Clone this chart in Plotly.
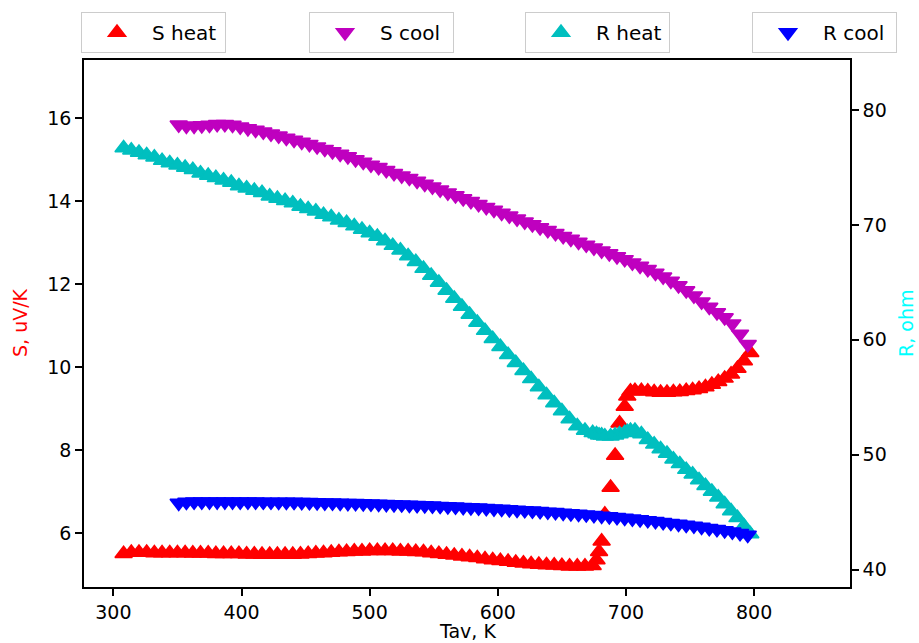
import plotly.graph_objects as go

# ---------------- data ----------------
T_heat = [308, 314, 320, 326, 332, 338, 344, 350, 356, 362, 368, 374, 380, 386, 392, 398,
          404, 410, 416, 422, 428, 434, 440, 446, 452, 458, 464, 470, 476, 482, 488, 494,
          500, 506, 512, 518, 524, 530, 536, 542, 548, 554, 560, 566, 572, 578, 584, 590,
          596, 602, 608, 614, 620, 626, 632, 638, 644, 650, 656, 662, 668, 674,
          677, 679, 681, 683.5, 688, 691.5, 695, 699, 701, 703.5,
          707, 712, 717, 722, 727, 732, 737, 742, 747, 752, 757, 762, 767, 772, 777, 782,
          787, 792, 797]

S_heat = [5.50, 5.53, 5.53, 5.53, 5.52, 5.52, 5.52, 5.52, 5.52, 5.51, 5.51, 5.51, 5.50, 5.50, 5.50, 5.50,
          5.49, 5.49, 5.48, 5.48, 5.48, 5.48, 5.48, 5.49, 5.50, 5.51, 5.52, 5.53, 5.54, 5.55, 5.56, 5.56,
          5.57, 5.57, 5.57, 5.57, 5.56, 5.56, 5.55, 5.54, 5.52, 5.50, 5.48, 5.46, 5.44, 5.42, 5.40, 5.37,
          5.35, 5.33, 5.31, 5.29, 5.27, 5.25, 5.24, 5.23, 5.22, 5.21, 5.20, 5.20, 5.20, 5.21,
          5.35, 5.55, 5.80, 6.45, 7.10, 7.87, 8.65, 9.05, 9.30, 9.42,
          9.43, 9.43, 9.42, 9.40, 9.39, 9.39, 9.40, 9.41, 9.43, 9.45, 9.48, 9.52, 9.58, 9.65, 9.73, 9.83,
          9.97, 10.15, 10.35]

R_heat = [76.7, 76.5, 76.3, 76.1, 75.9, 75.6, 75.4, 75.2, 75.0, 74.8, 74.5, 74.3, 74.1, 73.9, 73.7, 73.4,
          73.2, 73.0, 72.8, 72.5, 72.3, 72.1, 71.9, 71.6, 71.4, 71.2, 70.9, 70.7, 70.4, 70.2, 69.9, 69.6,
          69.3, 69.0, 68.6, 68.2, 67.8, 67.3, 66.8, 66.2, 65.6, 65.0, 64.3, 63.6, 62.9, 62.2, 61.5, 60.8,
          60.1, 59.4, 58.7, 58.0, 57.3, 56.6, 55.9, 55.2, 54.5, 53.8, 53.1, 52.5, 52.1, 51.9,
          51.8, 51.7, 51.7, 51.6, 51.6, 51.7, 51.8, 51.9, 52.0, 52.1,
          52.1, 51.8, 51.3, 50.9, 50.5, 50.1, 49.6, 49.2, 48.7, 48.3, 47.8, 47.3, 46.8, 46.3, 45.7, 45.1,
          44.5, 43.8, 43.1]

T_cool = [351, 357, 363, 369, 375, 381, 387, 393, 399, 405, 411, 417, 423, 429, 435,
          441, 447, 453, 459, 465, 471, 477, 483, 489, 495, 501, 507, 513, 519, 525, 531,
          537, 543, 549, 555, 561, 567, 573, 579, 585, 591, 597, 603, 609, 615, 621, 627,
          633, 639, 645, 651, 657, 663, 669, 675, 681, 687, 693, 699, 705, 711, 717, 723,
          729, 735, 741, 747, 753, 759, 765, 771, 777, 783, 789, 795]

S_cool = [15.85, 15.82, 15.82, 15.83, 15.84, 15.86, 15.86, 15.84, 15.80, 15.76, 15.72, 15.68, 15.63, 15.58, 15.53,
          15.48, 15.43, 15.38, 15.32, 15.26, 15.20, 15.14, 15.08, 15.01, 14.95, 14.88, 14.82, 14.75, 14.68, 14.62, 14.56,
          14.49, 14.42, 14.35, 14.28, 14.21, 14.14, 14.07, 14.00, 13.93, 13.86, 13.79, 13.72, 13.65, 13.58, 13.51, 13.44,
          13.37, 13.30, 13.23, 13.16, 13.09, 13.02, 12.95, 12.88, 12.81, 12.74, 12.67, 12.60, 12.52, 12.44, 12.36, 12.27,
          12.18, 12.08, 11.97, 11.85, 11.72, 11.58, 11.45, 11.32, 11.20, 11.05, 10.80, 10.55]

R_cool = [45.80, 45.88, 45.90, 45.90, 45.91, 45.91, 45.91, 45.91, 45.90, 45.90, 45.90, 45.89, 45.89, 45.88, 45.88,
          45.87, 45.86, 45.85, 45.84, 45.82, 45.81, 45.80, 45.78, 45.77, 45.75, 45.73, 45.71, 45.69, 45.67, 45.65, 45.62,
          45.60, 45.58, 45.55, 45.52, 45.49, 45.46, 45.43, 45.40, 45.37, 45.34, 45.30, 45.27, 45.23, 45.19, 45.15, 45.11,
          45.07, 45.02, 44.98, 44.93, 44.88, 44.83, 44.78, 44.73, 44.67, 44.61, 44.55, 44.49, 44.42, 44.35, 44.28, 44.20,
          44.12, 44.04, 43.96, 43.88, 43.80, 43.70, 43.60, 43.50, 43.40, 43.28, 43.15, 43.00]

x_ticks = [300, 400, 500, 600, 700, 800]
s_ticks = [6, 8, 10, 12, 14, 16]
r_ticks = [40, 50, 60, 70, 80]

# ---------------- figure ----------------
FONT = "DejaVu Sans"
FS = 19
MS = 15

def mk(symbol, color):
    return dict(symbol=symbol, size=MS, color=color, line=dict(width=1.5, color=color))

fig = go.Figure()
fig.add_trace(go.Scatter(x=T_heat, y=S_heat, mode="markers", name="S heat",
                         marker=mk("triangle-up", "#ff0000"), legend="legend"))
fig.add_trace(go.Scatter(x=T_cool, y=S_cool, mode="markers", name="S cool",
                         marker=mk("triangle-down", "#bf00bf"), legend="legend2"))
fig.add_trace(go.Scatter(x=T_heat, y=R_heat, mode="markers", name="R heat", yaxis="y2",
                         marker=mk("triangle-up", "#00bfbf"), legend="legend3"))
fig.add_trace(go.Scatter(x=T_cool, y=R_cool, mode="markers", name="R cool", yaxis="y2",
                         marker=mk("triangle-down", "#0000ff"), legend="legend4"))

L, R, T, B = 84, 69, 60, 56
W, H = 919, 643
pw, ph = W - L - R, H - T - B

def px2x(px):
    return (px - L) / pw

def py2y(py):
    return (H - B - py) / ph

axis_common = dict(showgrid=False, zeroline=False, showline=True, linecolor="black", linewidth=1.5,
                   ticks="outside", ticklen=7, tickwidth=1.5, tickcolor="black",
                   tickfont=dict(family=FONT, size=FS, color="black"))

fig.update_layout(
    width=W, height=H, showlegend=True,
    margin=dict(l=L, r=R, t=T, b=B, autoexpand=False),
    paper_bgcolor="white", plot_bgcolor="white",
    font=dict(family=FONT, size=FS, color="black"),
    xaxis=dict(range=[277.1, 874.8], tickmode="array", tickvals=x_ticks, mirror=True, **axis_common),
    yaxis=dict(range=[4.697, 17.41], tickmode="array", tickvals=s_ticks, **axis_common),
    yaxis2=dict(range=[38.48, 84.36], tickmode="array", tickvals=r_ticks, overlaying="y", side="right",
                **axis_common),
)

leg_common = dict(yanchor="top", xanchor="left", bgcolor="white", bordercolor="#cccccc", borderwidth=1,
                  font=dict(family=FONT, size=FS + 1, color="black"), itemwidth=60, orientation="h",
                  entrywidth=68)
fig.update_layout(
    legend=dict(x=px2x(81), y=py2y(12), **leg_common),
    legend2=dict(x=px2x(309), y=py2y(12), **leg_common),
    legend3=dict(x=px2x(525), y=py2y(12), **leg_common),
    legend4=dict(x=px2x(752), y=py2y(12), **leg_common),
)

fig.add_annotation(text="S, uV/K", xref="paper", yref="paper", x=px2x(20), y=py2y(323),
                   textangle=-90, showarrow=False, xanchor="center", yanchor="middle",
                   font=dict(family=FONT, size=FS, color="#ff0000"))
fig.add_annotation(text="R, ohm", xref="paper", yref="paper", x=px2x(906), y=py2y(323),
                   textangle=-90, showarrow=False, xanchor="center", yanchor="middle",
                   font=dict(family=FONT, size=FS, color="#00ffff"))
fig.add_annotation(text="Tav, K", xref="paper", yref="paper", x=px2x(467), y=py2y(631),
                   showarrow=False, xanchor="center", yanchor="middle",
                   font=dict(family=FONT, size=FS, color="black"))

fig.write_html("out.html")
